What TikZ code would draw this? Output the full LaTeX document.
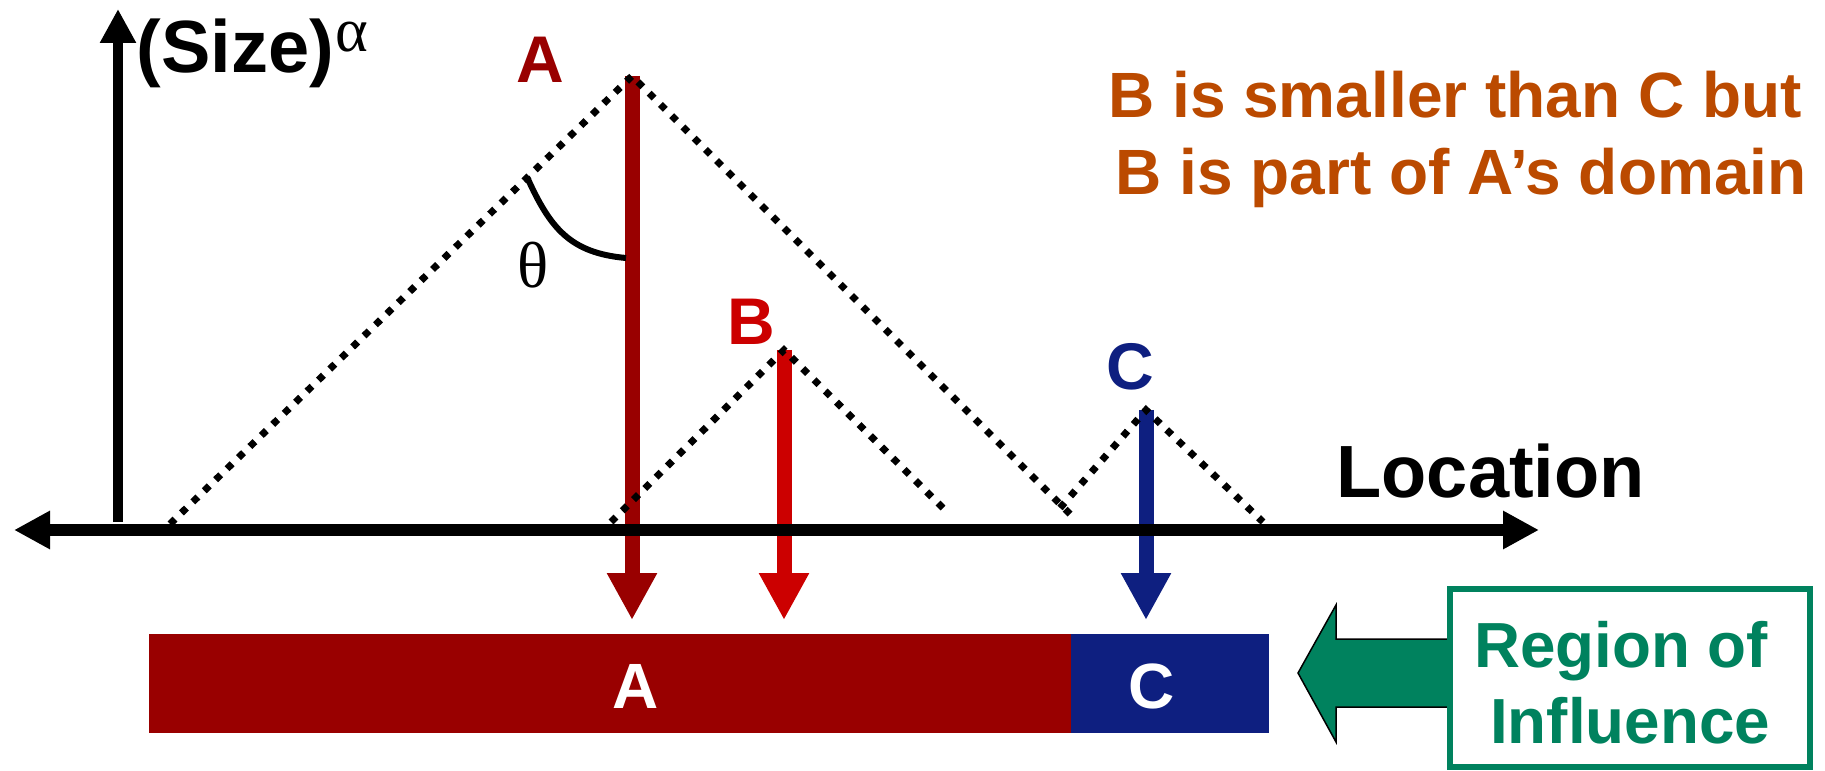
\documentclass[tikz,border=0pt]{standalone}
\usepackage{fontspec}
\setmainfont{Liberation Sans}
\newfontfamily\serifgr{Liberation Serif}
\usetikzlibrary{arrows.meta}
\definecolor{aRed}{RGB}{153,0,0}
\definecolor{bRed}{RGB}{204,0,0}
\definecolor{cBlue}{RGB}{14,31,128}
\definecolor{noteOrange}{RGB}{187,74,0}
\definecolor{roiGreen}{RGB}{0,130,94}
\begin{document}
\begin{tikzpicture}[x=0.4pt,y=-0.4pt,
  txt/.style={inner sep=0pt, font=\bfseries\fontsize{#1}{#1}\selectfont},
  sizearrow/.style={line width=6pt, -{Triangle[width=18.8pt,length=18.8pt]}},
  dotline/.style={line width=2.8pt, dash pattern=on 2.8pt off 3.56pt}
]
\useasboundingbox (0,0) rectangle (1825,771);

% peaks and ends
\coordinate (Apk) at (632,76);
\coordinate (Aend) at (632,620);
\coordinate (Bpk) at (784,350);
\coordinate (Bend) at (784,620);
\coordinate (Cpk) at (1146,410);
\coordinate (Cend) at (1146,620);
\coordinate (AL) at (170,524);
\coordinate (AR) at (1076,520);
\coordinate (BL) at (611,522);
\coordinate (BR) at (945,510);
\coordinate (CL) at (1060,508);
\coordinate (CR) at (1263,522);
\coordinate (yorig) at (118,522);
\coordinate (ytop) at (118,9);
\coordinate (xleft) at (14,530);
\coordinate (xright) at (1539,530);

% size arrows
\draw[sizearrow, aRed] (Apk) -- (Aend);
\draw[sizearrow, bRed] (Bpk) -- (Bend);
\draw[sizearrow, cBlue] (Cpk) -- (Cend);

% axes
\draw[line width=4pt, -{Triangle[width=13.6pt,length=13.6pt]}] (yorig) -- (ytop);
\draw[line width=4.8pt, {Triangle[width=14.4pt,length=14.4pt]}-{Triangle[width=14.4pt,length=14.4pt]}] (xleft) -- (xright);

% dotted domains
\draw[dotline] (AL) -- (Apk) -- (AR);
\draw[dotline] (BL) -- (Bpk) -- (BR);
\draw[dotline] (CL) -- (Cpk) -- (CR);

% theta arc
\draw[line width=2.4pt] (527,177) .. controls (550,228) and (570,253) .. (626,258);
\node[inner sep=0pt, font=\serifgr\fontsize{26pt}{30pt}\selectfont] (theta) at (533,265) {θ};

% labels
\node[txt=29.6pt, anchor=base west] (ylab) at (136,73) {(Size)};
\node[inner sep=0pt, anchor=base west, font=\serifgr\fontsize{25pt}{29pt}\selectfont] (alpha) at (335,52) {α};
\node[txt=29.6pt, anchor=base west] (xlab) at (1336,498) {Location};
\node[txt=26.4pt, text=aRed, anchor=base] (Alab) at (540,83) {A};
\node[txt=26.4pt, text=bRed, anchor=base] (Blab) at (751,345) {B};
\node[txt=26.4pt, text=cBlue, anchor=base] (Clab) at (1130,390) {C};

\node[txt=25.6pt, text=noteOrange, anchor=base] (note1) at (1455,118) {B is smaller than C but};
\node[txt=25.6pt, text=noteOrange, anchor=base] (note2) at (1461,195) {B is part of A’s domain};

% region bars
\fill[aRed] (149,634) rectangle (1071,733);
\fill[cBlue] (1071,634) rectangle (1269,733);
\node[txt=25.6pt, text=white] (barA) at (636,686) {A};
\node[txt=25.6pt, text=white] (barC) at (1152,686) {C};

% green block arrow
\filldraw[fill=roiGreen, draw=black, line width=0.6pt]
  (1298,673) -- (1336,605) -- (1336,639) -- (1450,639) -- (1450,707) -- (1336,707) -- (1336,742) -- cycle;

\node[draw=roiGreen, fill=white, line width=2.4pt, minimum width=144pt, minimum height=71.2pt,
      inner sep=0pt] (roi) at (1630,678) {};
\node[txt=25.5pt, text=roiGreen, anchor=base] (roi1) at (1621,667) {Region of};
\node[txt=25.5pt, text=roiGreen, anchor=base] (roi2) at (1630,743) {Influence};
\end{tikzpicture}
\end{document}
